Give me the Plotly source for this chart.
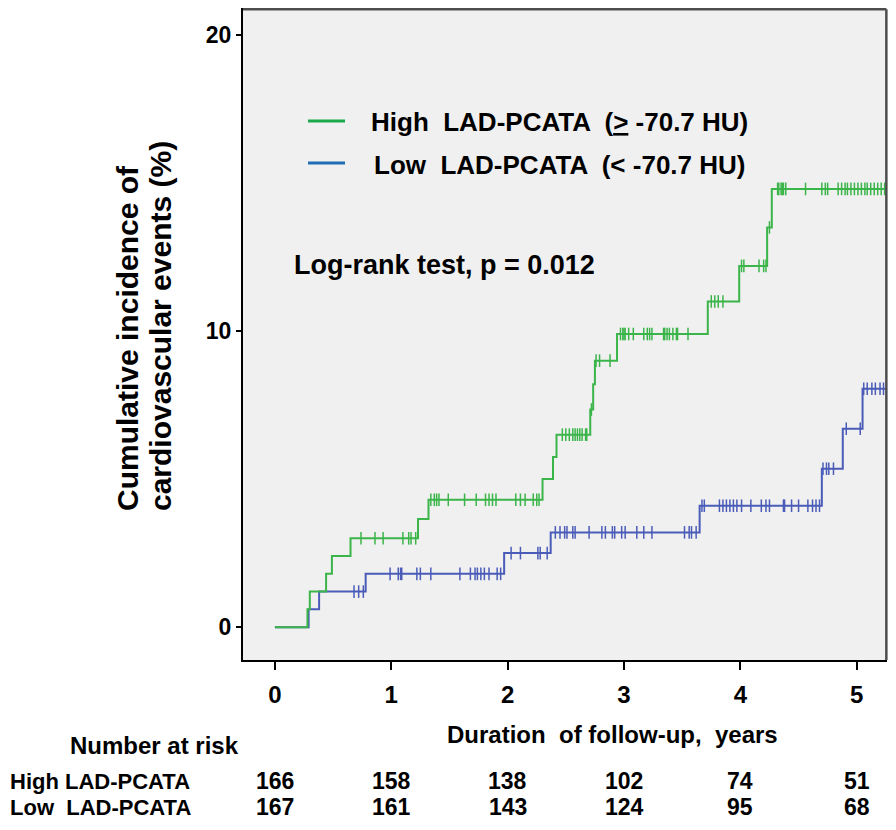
"""Cumulative incidence of cardiovascular events by LAD-PCATA (Kaplan-Meier style)."""

import numpy as np
import plotly.graph_objects as go

# --- High LAD-PCATA (>= -70.7 HU): event times (years) and cumulative incidence (%)
high_times = [0, 0.28, 0.30, 0.44, 0.49, 0.65, 1.23, 1.32, 2.30, 2.39, 2.42,
              2.71, 2.735, 2.75, 2.94, 3.72, 3.99, 4.23, 4.27]
high_values = [0, 0.6, 1.2, 1.8, 2.4, 3.0, 3.65, 4.3, 5.0, 5.75, 6.5,
               7.35, 8.2, 9.0, 9.9, 11.0, 12.2, 13.5, 14.8]
high_censored = [0.74, 0.86, 0.93, 1.10, 1.15, 1.17, 1.21,
                 1.34, 1.37, 1.39, 1.41, 1.49, 1.63, 1.73, 1.81, 1.84, 1.87, 1.90,
                 2.07, 2.11, 2.15, 2.22, 2.25, 2.27,
                 2.47, 2.50, 2.53, 2.56, 2.58, 2.60, 2.62, 2.64, 2.67, 2.68,
                 2.72, 2.76, 2.79, 2.88,
                 2.97, 2.99, 3.00, 3.01, 3.04, 3.08, 3.17, 3.20, 3.22, 3.24,
                 3.34, 3.35, 3.37, 3.39, 3.42, 3.45, 3.46, 3.55,
                 3.75, 3.78, 3.81, 3.85,
                 4.01, 4.03, 4.16, 4.20, 4.22, 4.25,
                 4.32, 4.33, 4.35, 4.36, 4.37, 4.39, 4.56, 4.70, 4.73, 4.75,
                 4.84, 4.87, 4.90, 4.92, 4.95, 4.98, 5.01, 5.04, 5.07, 5.09,
                 5.12, 5.15, 5.18, 5.21, 5.24, 5.26]

# --- Low LAD-PCATA (< -70.7 HU)
low_times = [0, 0.29, 0.38, 0.78, 1.97, 2.37, 3.65, 4.70, 4.88, 5.05]
low_values = [0, 0.6, 1.2, 1.8, 2.5, 3.2, 4.1, 5.35, 6.7, 8.05]
low_censored = [0.68, 0.72, 0.76,
                0.99, 1.06, 1.08, 1.09, 1.22, 1.25, 1.34, 1.59, 1.68, 1.72, 1.74,
                1.77, 1.80, 1.84, 1.91, 1.94,
                2.03, 2.11, 2.26, 2.28, 2.34,
                2.41, 2.45, 2.49, 2.51, 2.56, 2.58, 2.70, 2.81, 2.84, 2.90, 2.92,
                2.98, 3.01, 3.11, 3.17, 3.24, 3.52, 3.56, 3.58, 3.62,
                3.67, 3.69, 3.82, 3.85, 3.88, 3.91, 3.94, 3.97, 4.01, 4.09, 4.18,
                4.22, 4.25, 4.37, 4.38, 4.44, 4.50, 4.58, 4.62, 4.65, 4.68,
                4.71, 4.74, 4.76, 4.80,
                4.91, 5.03,
                5.06, 5.09, 5.13, 5.16, 5.20, 5.23, 5.26]

# --- Number at risk table
risk_years = [0, 1, 2, 3, 4, 5]
risk_high = [166, 158, 138, 102, 74, 51]
risk_low = [167, 161, 143, 124, 95, 68]

GREEN = "#3bb54a"
BLUE = "#4a5cb8"
LEG_GREEN = "#1ca94c"
LEG_BLUE = "#1f6db5"
FONT = "Liberation Sans, Arial, sans-serif"
NARROW = "Liberation Sans Narrow, Arial Narrow, Liberation Sans, sans-serif"

# page body has an 8px margin: keep the figure inside the 896x830 window
W, H = 880, 814
ML, MR, MT, MB = 235, 1, 0, 162
PW, PH = W - ML - MR, H - MT - MB


def px(x_screen):
    return (x_screen - 8 - ML) / PW


def py(y_screen):
    return (H - MB - (y_screen - 8)) / PH


def step_value(times, values, t):
    idx = np.searchsorted(np.asarray(times), np.asarray(t), side="right") - 1
    return np.asarray(values)[idx]


def bold(size, family=FONT):
    return dict(family=family, size=size, color="black", weight="bold")


def text(x, y, txt, font, xref="paper", xanchor="left", **kw):
    fig.add_annotation(xref=xref, yref="paper", x=x, y=y, text=txt, font=font,
                       xanchor=xanchor, yanchor=kw.pop("yanchor", "middle"),
                       showarrow=False, **kw)


fig = go.Figure()

for times, values, cens, color in [
    (low_times, low_values, low_censored, BLUE),
    (high_times, high_values, high_censored, GREEN),
]:
    end = max(cens)
    fig.add_trace(go.Scatter(
        x=list(times) + [end], y=list(values) + [values[-1]],
        mode="lines", line=dict(color=color, width=2, shape="hv"),
        showlegend=False, hoverinfo="skip",
    ))
    fig.add_trace(go.Scatter(
        x=cens, y=step_value(times, values, cens),
        mode="markers",
        marker=dict(symbol="line-ns", size=9, line=dict(color=color, width=1.5)),
        showlegend=False, hoverinfo="skip",
    ))

# manual legend (line colours differ from the curves in the source)
for ys, col in [(121, LEG_GREEN), (163, LEG_BLUE)]:
    fig.add_shape(type="line", xref="paper", yref="paper", x0=px(308), x1=px(345),
                  y0=py(ys), y1=py(ys), line=dict(color=col, width=3))

text(px(369), py(122), "High  LAD-PCATA  (<u>&gt;</u> -70.7 HU)", bold(26))
text(px(372), py(165), "Low  LAD-PCATA  (< -70.7 HU)", bold(26))
text(px(292), py(265), "Log-rank test, p = 0.012", bold(27))

# y-axis title, two lines bottom-aligned
text(px(127), py(513), "Cumulative incidence of", bold(30), xanchor="center",
     yanchor="bottom", textangle=-90)
text(px(160), py(513), "cardiovascular events (%)", bold(30), xanchor="center",
     yanchor="bottom", textangle=-90)

text(px(612), py(735), "Duration  of follow-up,  years", bold(24, NARROW), xanchor="center")
text(px(68), py(746), "Number at risk", bold(24, NARROW))

for label, counts, ys in [("High LAD-PCATA", risk_high, 781),
                          ("Low  LAD-PCATA", risk_low, 807)]:
    text(px(8), py(ys), label, bold(22, NARROW))
    for yr, n in zip(risk_years, counts):
        text(yr, py(ys), str(n), bold(23, NARROW), xref="x", xanchor="center")

# top / right frame (grey, as in the source)
fig.add_shape(type="line", xref="paper", yref="paper", x0=0, x1=0.999,
              y0=0.998, y1=0.998, line=dict(color="#4d4d4d", width=2.5))
fig.add_shape(type="line", xref="paper", yref="paper", x0=0.999, x1=0.999,
              y0=0, y1=0.998, line=dict(color="#4d4d4d", width=2.5))

fig.update_xaxes(range=[-0.274, 5.26], tickvals=risk_years, ticks="outside",
                 ticklen=8, tickwidth=2, tickcolor="black", showgrid=False,
                 zeroline=False, showline=True, linecolor="black", linewidth=2,
                 ticklabelstandoff=4, tickfont=bold(24, NARROW))
fig.update_yaxes(range=[-1.11, 20.91], tickvals=[0, 10, 20], ticks="outside",
                 ticklen=5, tickwidth=2, tickcolor="black", showgrid=False,
                 zeroline=False, showline=True, linecolor="black", linewidth=2,
                 tickfont=bold(23))

fig.update_layout(
    width=W, height=H,
    margin=dict(l=ML, r=MR, t=MT, b=MB),
    plot_bgcolor="#f0f0f0", paper_bgcolor="white",
    showlegend=False,
)

fig.write_html("out.html")
